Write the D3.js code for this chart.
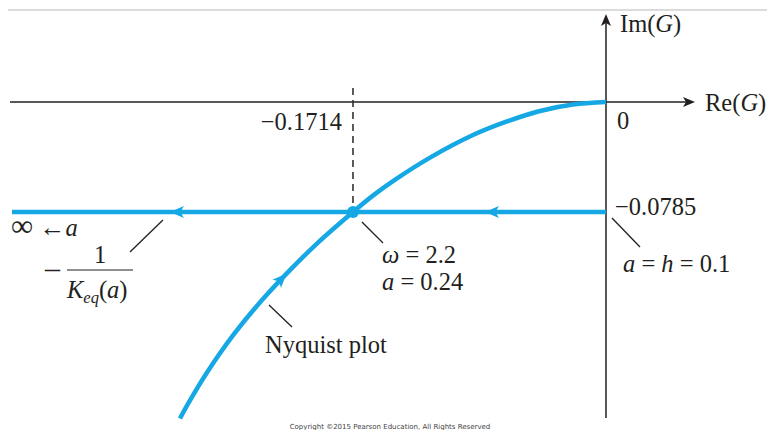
<!DOCTYPE html>
<html>
<head>
<meta charset="utf-8">
<script src="https://cdn.jsdelivr.net/npm/d3@7"></script>
<style>
  html, body { margin: 0; padding: 0; background: #fff; }
  svg { display: block; }
</style>
</head>
<body>
<svg id="chart" width="767" height="430"></svg>
<script>
// Nyquist locus of G(jω), (Re, Im) pairs ordered from low to high frequency
const nyquistRe = [-0.2886, -0.2832, -0.2705, -0.2527, -0.2333, -0.2141, -0.1960, -0.1714, -0.1579, -0.1418, -0.1192, -0.0901, -0.0671, -0.0447, -0.0224, 0];
const nyquistIm = [-0.2259, -0.2155, -0.1934, -0.1666, -0.1417, -0.1200, -0.1012, -0.0785, -0.0668, -0.0547, -0.0397, -0.0236, -0.0139, -0.0064, -0.0018, 0];

// Describing-function locus −1/Keq(a): constant imaginary part, starts at a = h
const dfIm = -0.0785;
const dfRe = [0, -0.4024];           // from a = h = 0.1 towards a → ∞
const dfArrowRe = [-0.082, -0.2954]; // direction arrows along the locus

// Intersection (limit cycle)
const crossRe = -0.1714;
const crossIm = -0.0785;

// Axis extents
const reDomain = [-0.4024, 0.0603];
const imDomain = [-0.2255, 0.0628];

// Tick labels
const reTickLabel = "\u22120.1714";
const originLabel = "0";
const imTickLabel = "\u22120.0785";

const svg = d3.select("#chart");
const ink = "#231f20";
const blue = "#16a8e4";
const serif = "'Liberation Serif', 'Times New Roman', Times, serif";

const x = d3.scaleLinear().domain(reDomain).range([12, 695]);
const y = d3.scaleLinear().domain(imDomain).range([418, 14]);

// thin rule across the top
svg.append("line").attr("x1", 8).attr("x2", 767).attr("y1", 10).attr("y2", 10)
  .attr("stroke", "#cfcfcf").attr("stroke-width", 1.5);

function arrowHead(g, px, py, angleDeg, color, len, half) {
  g.append("path")
    .attr("d", `M0,0 L${-len},${-half} L${-len * 0.75},0 L${-len},${half} Z`)
    .attr("transform", `translate(${px},${py}) rotate(${angleDeg})`)
    .attr("fill", color);
}

// axes
const axes = svg.append("g");
axes.append("line").attr("x1", x(reDomain[0]) - 2).attr("x2", x(reDomain[1]) - 6)
  .attr("y1", y(0)).attr("y2", y(0)).attr("stroke", ink).attr("stroke-width", 1.5);
axes.append("line").attr("x1", x(0)).attr("x2", x(0))
  .attr("y1", y(imDomain[0])).attr("y2", y(imDomain[1]) + 6).attr("stroke", ink).attr("stroke-width", 1.5);
arrowHead(axes, x(reDomain[1]), y(0), 0, ink, 12, 5);
arrowHead(axes, x(0), y(imDomain[1]), -90, ink, 12, 5);

// dashed guide from the real axis to the intersection
svg.append("line").attr("x1", x(crossRe)).attr("x2", x(crossRe))
  .attr("y1", y(0) - 14).attr("y2", y(crossIm))
  .attr("stroke", "#333").attr("stroke-width", 1.6).attr("stroke-dasharray", "7,5");

// describing-function locus
const df = svg.append("g");
df.append("line").attr("x1", x(dfRe[0])).attr("x2", x(dfRe[1]))
  .attr("y1", y(dfIm)).attr("y2", y(dfIm))
  .attr("stroke", blue).attr("stroke-width", 4.5);
dfArrowRe.forEach(r => arrowHead(df, x(r), y(dfIm), 180, blue, 14, 6));

// Nyquist curve
const pts = nyquistRe.map((r, i) => [r, nyquistIm[i]]);
const line = d3.line().x(d => x(d[0])).y(d => y(d[1])).curve(d3.curveCatmullRom.alpha(0.5));
const nyq = svg.append("path").attr("d", line(pts))
  .attr("fill", "none").attr("stroke", blue).attr("stroke-width", 4.5);

// direction arrow on the Nyquist curve
(function () {
  const node = nyq.node();
  const total = node.getTotalLength();
  const targetX = x(-0.2165);
  let lo = 0, hi = total;
  for (let k = 0; k < 40; k++) {
    const mid = (lo + hi) / 2;
    if (node.getPointAtLength(mid).x < targetX) lo = mid; else hi = mid;
  }
  const p = node.getPointAtLength(lo);
  const q = node.getPointAtLength(Math.min(total, lo + 2));
  const ang = Math.atan2(q.y - p.y, q.x - p.x) * 180 / Math.PI;
  arrowHead(svg, p.x, p.y, ang, blue, 14, 6);
})();

// intersection marker
svg.append("circle").attr("cx", x(crossRe)).attr("cy", y(crossIm)).attr("r", 6).attr("fill", blue);

// leader lines
const leaders = [
  [x(-0.2954) - 7, y(dfIm) + 8, 130, 252],
  [x(crossRe) + 9, y(crossIm) + 10, 383, 243],
  [x(0) + 6, y(dfIm) + 6, 640, 247],
  [269, 305, 292, 327]
];
svg.append("g").selectAll("line").data(leaders).join("line")
  .attr("x1", d => d[0]).attr("y1", d => d[1]).attr("x2", d => d[2]).attr("y2", d => d[3])
  .attr("stroke", ink).attr("stroke-width", 1.3);

// text
const T = svg.append("g");

function rich(px, py, parts, anchor, size) {
  const t = T.append("text").attr("x", px).attr("y", py)
    .attr("text-anchor", anchor || "start")
    .attr("font-family", serif).attr("font-size", size || 24.5).attr("fill", ink);
  parts.forEach(p => {
    const s = t.append("tspan").text(p.t);
    if (p.i) s.attr("font-style", "italic");
    if (p.sub) s.attr("font-size", 16.5).attr("dy", 5);
    if (p.up) s.attr("dy", -5);
    if (p.fs) s.attr("font-size", p.fs);
  });
  return t;
}

rich(x(0) + 14, 32, [{t: "Im("}, {t: "G", i: 1}, {t: ")"}]);
rich(705, 111, [{t: "Re("}, {t: "G", i: 1}, {t: ")"}]);
rich(x(0) + 11, 129, [{t: originLabel}]);
rich(x(crossRe) - 11, 130, [{t: reTickLabel}], "end");
rich(x(0) + 9, 215, [{t: imTickLabel}]);

rich(382, 263, [{t: "\u03c9", i: 1}, {t: " = 2.2"}]);
rich(382, 290, [{t: "a", i: 1}, {t: " = 0.24"}]);
rich(623, 272, [{t: "a", i: 1}, {t: " = "}, {t: "h", i: 1}, {t: " = 0.1"}]);

rich(11, 236, [{t: "\u221e", fs: 31}, {t: " \u2190", fs: 26}, {t: "a", i: 1}]);
// leading minus sign of the fraction
rich(45, 278, [{t: "\u2013", fs: 30}]);
rich(100, 263, [{t: "1"}], "middle");
svg.append("line").attr("x1", 67).attr("x2", 133).attr("y1", 270).attr("y2", 270)
  .attr("stroke", ink).attr("stroke-width", 1.2);
rich(67, 298, [{t: "K", i: 1}, {t: "eq", i: 1, sub: 1}, {t: "(", up: 1}, {t: "a", i: 1}, {t: ")"}]);

rich(265, 353, [{t: "Nyquist plot"}]);

svg.append("text").attr("x", 390).attr("y", 429).attr("text-anchor", "middle")
  .attr("font-family", "'DejaVu Sans', sans-serif").attr("font-size", 7).attr("fill", "#444")
  .text("Copyright \u00a92015 Pearson Education, All Rights Reserved");
</script>
</body>
</html>
